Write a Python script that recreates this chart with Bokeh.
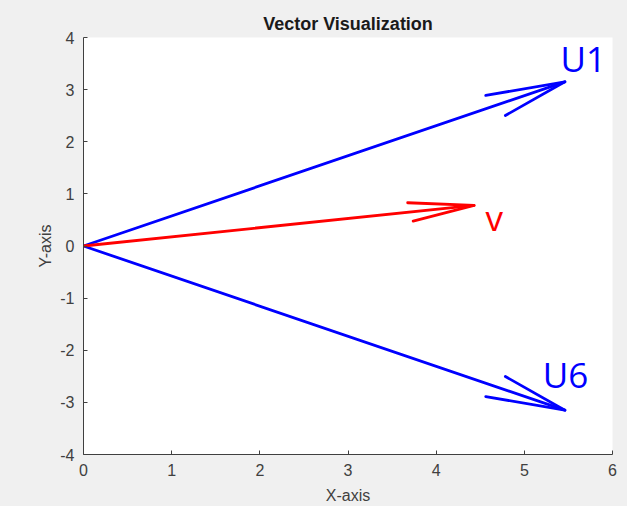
import numpy as np
from bokeh.plotting import figure
from bokeh.models import ColumnDataSource, FixedTicker, Range1d
from bokeh.embed import file_html
from bokeh.resources import INLINE
from bokeh.core.properties import value

# ---- data ----
names = ["U1", "v", "U6"]
vec_x = [5.46, 4.43, 5.46]
vec_y = [3.15, 0.78, -3.15]
x_ticks = [0, 1, 2, 3, 4, 5, 6]
y_ticks = [-4, -3, -2, -1, 0, 1, 2, 3, 4]

# ---- style ----
colors = ["#0000ff", "#ff0000", "#0000ff"]
head_alpha = [0.144, 0.163, 0.144]
head_beta = 0.245
label_dx = [-0.05, 0.13, -0.25]
label_dy = [0.45, -0.23, 0.68]
draw_order = [0, 2, 1]

p = figure(width=627, height=506, output_backend="svg", toolbar_location=None,
           x_range=Range1d(0, 6), y_range=Range1d(-4, 4),
           min_border_left=83, min_border_right=15, min_border_top=37, min_border_bottom=52)

p.background_fill_color = "white"
p.border_fill_color = "#f0f0f0"
p.outline_line_color = None
p.grid.grid_line_color = None

p.title.text = "Vector Visualization"
p.title.align = "center"
p.title.text_font = "Liberation Sans"
p.title.text_font_size = "18px"
p.title.text_font_style = "bold"
p.title.text_color = "#1a1a1a"
p.title.standoff = 7

for ax, ticks, label, lstand in ((p.xaxis, x_ticks, "X-axis", 8), (p.yaxis, y_ticks, "Y-axis", 3)):
    ax.ticker = FixedTicker(ticks=ticks)
    ax.major_label_overrides = {t: str(t) for t in ticks}
    ax.axis_label = label
    ax.axis_label_text_font = "Liberation Sans"
    ax.axis_label_text_font_size = "16px"
    ax.axis_label_text_font_style = "normal"
    ax.axis_label_text_color = "#404040"
    ax.major_label_text_font = "Liberation Sans"
    ax.major_label_text_font_size = "16px"
    ax.major_label_text_color = "#404040"
    ax.axis_line_color = "#404040"
    ax.major_tick_line_color = "#404040"
    ax.major_tick_in = 4
    ax.major_tick_out = 0
    ax.minor_tick_line_color = None
    ax.major_label_standoff = 9
    ax.axis_label_standoff = lstand

for i in draw_order:
    u, v = vec_x[i], vec_y[i]
    a = head_alpha[i]
    b1 = (u - a * (u + head_beta * v), v - a * (v - head_beta * u))
    b2 = (u - a * (u - head_beta * v), v - a * (v + head_beta * u))
    p.line([0, u], [0, v], line_color=colors[i], line_width=2.8, line_cap="round")
    p.line([b1[0], u, b2[0]], [b1[1], v, b2[1]], line_color=colors[i], line_width=2.8,
           line_cap="round", line_join="round")

src = ColumnDataSource(dict(
    x=[vec_x[i] + label_dx[i] for i in range(3)],
    y=[vec_y[i] + label_dy[i] for i in range(3)],
    t=names, c=colors))
p.text(x="x", y="y", text="t", text_color="c", source=src,
       text_font=value("Open Sans"), text_font_size="35px",
       text_align="left", text_baseline="alphabetic")

html = file_html(p, INLINE)
html = html.replace("</head>",
                    "<style>html,body{margin:0;padding:0;background:#f0f0f0;overflow:hidden}</style></head>", 1)
open("out.html", "w").write(html)
